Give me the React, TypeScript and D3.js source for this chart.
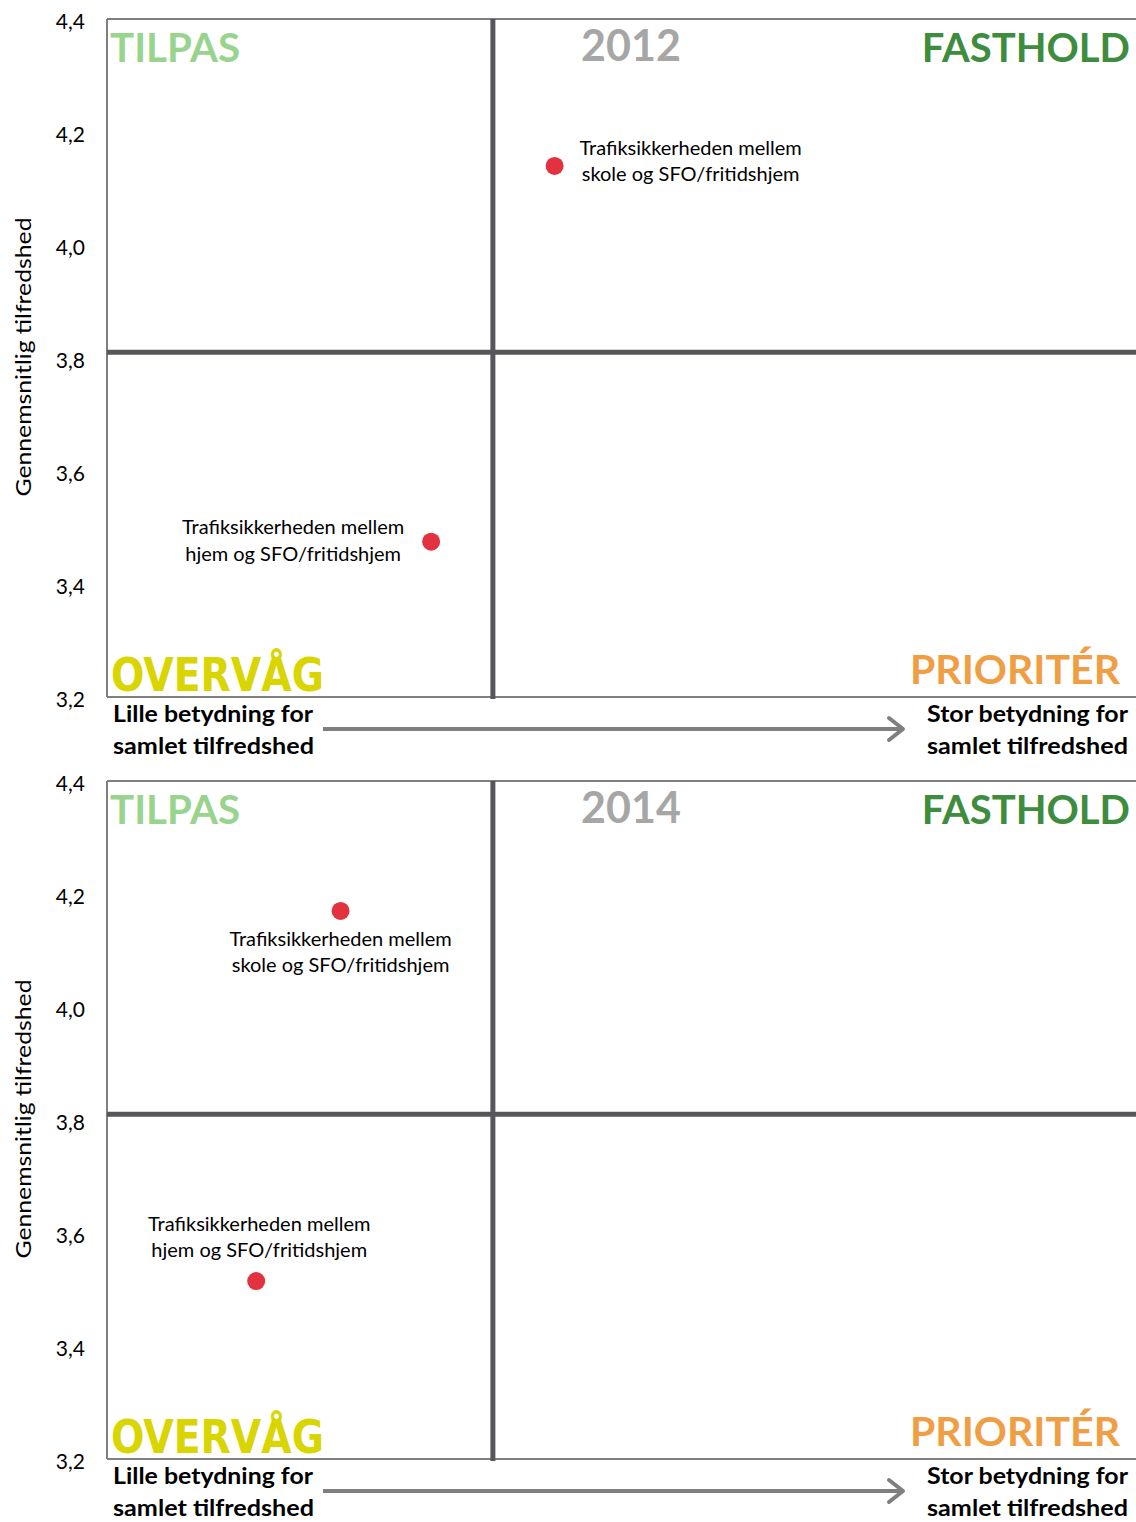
import React from "react";
import * as d3 from "d3";

// ---------- data ----------
const years = ["2012", "2014"];
const itemNames = [
  ["Trafiksikkerheden mellem", "skole og SFO/fritidshjem"],
  ["Trafiksikkerheden mellem", "hjem og SFO/fritidshjem"],
];
const importance2012 = [0.435, 0.315];
const satisfaction2012 = [4.14, 3.475];
const importance2014 = [0.227, 0.145];
const satisfaction2014 = [4.17, 3.515];
const yTicks = [3.2, 3.4, 3.6, 3.8, 4.0, 4.2, 4.4];
const dividerImportance = 0.375;
const dividerSatisfaction = 3.81;
const quadrantNames = ["TILPAS", "FASTHOLD", "OVERVÅG", "PRIORITÉR"];
const axisLow = ["Lille betydning for", "samlet tilfredshed"];
const axisHigh = ["Stor betydning for", "samlet tilfredshed"];
const yTitle = "Gennemsnitlig tilfredshed";

// ---------- layout ----------
const W = 1136;
const H = 1522;
const panelTops = [19, 781];
const panelH = 678;
const left = 107;
const right = 1136;

// label offsets per panel per item: [dx, dy line1, dy line2]
const labelOffsets = [
  [
    [136, -19, 7],
    [-138, -16, 11],
  ],
  [
    [0, 27, 53],
    [3, -58, -32],
  ],
];
const axisLowWidths = [200, 201];
const axisHighWidths = [201, 201];

const fmt = (v: number) => d3.format(".1f")(v).replace(".", ",");
const FONT = "Lato, 'Open Sans', sans-serif";

function Panel({ idx }: { idx: number }) {
  const T = panelTops[idx];
  const B = T + panelH;
  const x = d3.scaleLinear().domain([0, 1]).range([left, right]);
  const y = d3.scaleLinear().domain([3.2, 4.4]).range([B, T]);
  const imp = idx === 0 ? importance2012 : importance2014;
  const sat = idx === 0 ? satisfaction2012 : satisfaction2014;
  const border = "#7f7f7f";
  const divider = "#57565b";
  const xd = x(dividerImportance);
  const yd = y(dividerSatisfaction);
  return (
    <g>
      {/* y tick labels */}
      {yTicks.map((t) => (
        <text
          key={t}
          x={85}
          y={y(t) + 1}
          textAnchor="end"
          dominantBaseline="central"
          fontFamily={FONT}
          fontSize={21}
          fill="#000"
        >
          {fmt(t)}
        </text>
      ))}
      {/* y title */}
      <text
        transform={`translate(31,${(T + B) / 2 - 1}) rotate(-90)`}
        textAnchor="middle"
        fontFamily={FONT}
        fontSize={22}
        fill="#000"
        textLength={279}
        lengthAdjust="spacingAndGlyphs"
      >
        {yTitle}
      </text>
      {/* frame */}
      <line x1={left} x2={right} y1={T} y2={T} stroke={border} strokeWidth={2} />
      <line x1={left} x2={right} y1={B} y2={B} stroke={border} strokeWidth={2} />
      <line x1={left} x2={left} y1={T} y2={B} stroke={border} strokeWidth={2} />
      {/* dividers */}
      <line x1={left} x2={right} y1={yd} y2={yd} stroke={divider} strokeWidth={5} />
      <line x1={xd} x2={xd} y1={T} y2={B + 2} stroke={divider} strokeWidth={5} />
      {/* quadrant labels */}
      <text x={110} y={T + 43} fontFamily={FONT} fontWeight="bold" fontSize={41} fill="#98d48e" textLength={130} lengthAdjust="spacingAndGlyphs">
        {quadrantNames[0]}
      </text>
      <text x={631} y={T + 42} textAnchor="middle" fontFamily={FONT} fontWeight="bold" fontSize={43} fill="#a6a6a6">
        {years[idx]}
      </text>
      <text x={1130} y={T + 43} textAnchor="end" fontFamily={FONT} fontWeight="bold" fontSize={40} fill="#3e8d3e">
        {quadrantNames[1]}
      </text>
      <text x={111} y={B - 6} fontFamily="'DejaVu Sans Condensed', 'DejaVu Sans', sans-serif" fontWeight="bold" fontSize={46} fill="#d8d500" textLength={213} lengthAdjust="spacingAndGlyphs">
        {quadrantNames[2]}
      </text>
      <text x={1120} y={B - 13} textAnchor="end" fontFamily={FONT} fontWeight="bold" fontSize={41} fill="#f09e44">
        {quadrantNames[3]}
      </text>
      {/* bottom axis descriptors */}
      {axisLow.map((s, i) => (
        <text key={"l" + i} x={113} y={B + 25 + i * 32} fontFamily={FONT} fontWeight="bold" fontSize={23} fill="#000" textLength={axisLowWidths[i]} lengthAdjust="spacingAndGlyphs">
          {s}
        </text>
      ))}
      {axisHigh.map((s, i) => (
        <text key={"h" + i} x={1128} y={B + 25 + i * 32} textAnchor="end" fontFamily={FONT} fontWeight="bold" fontSize={23} fill="#000" textLength={axisHighWidths[i]} lengthAdjust="spacingAndGlyphs">
          {s}
        </text>
      ))}
      <line x1={323} x2={903} y1={B + 32} y2={B + 32} stroke="#7f7f7f" strokeWidth={4} />
      <polyline
        points={`${889},${B + 21} ${903},${B + 32} ${889},${B + 43}`}
        fill="none"
        stroke="#7f7f7f"
        strokeWidth={4}
        strokeLinecap="round"
        strokeLinejoin="round"
      />
      {/* points */}
      {imp.map((v, i) => {
        const px = x(v);
        const py = y(sat[i]);
        const off = labelOffsets[idx][i];
        return (
          <g key={i}>
            <circle cx={px} cy={py} r={9} fill="#e2323f" />
            {itemNames[i].map((s, j) => (
              <text
                key={j}
                x={px + off[0]}
                y={py + off[1 + j]}
                textAnchor="middle"
                dominantBaseline="central"
                fontFamily={FONT}
                fontSize={20}
                fill="#000"
              >
                {s}
              </text>
            ))}
          </g>
        );
      })}
    </g>
  );
}

export default function App() {
  return (
    <svg
      width={W}
      height={H}
      style={{ position: "absolute", left: 0, top: 0, background: "#fff" }}
    >
      <rect x={0} y={0} width={W} height={H} fill="#fff" />
      <Panel idx={0} />
      <Panel idx={1} />
    </svg>
  );
}
